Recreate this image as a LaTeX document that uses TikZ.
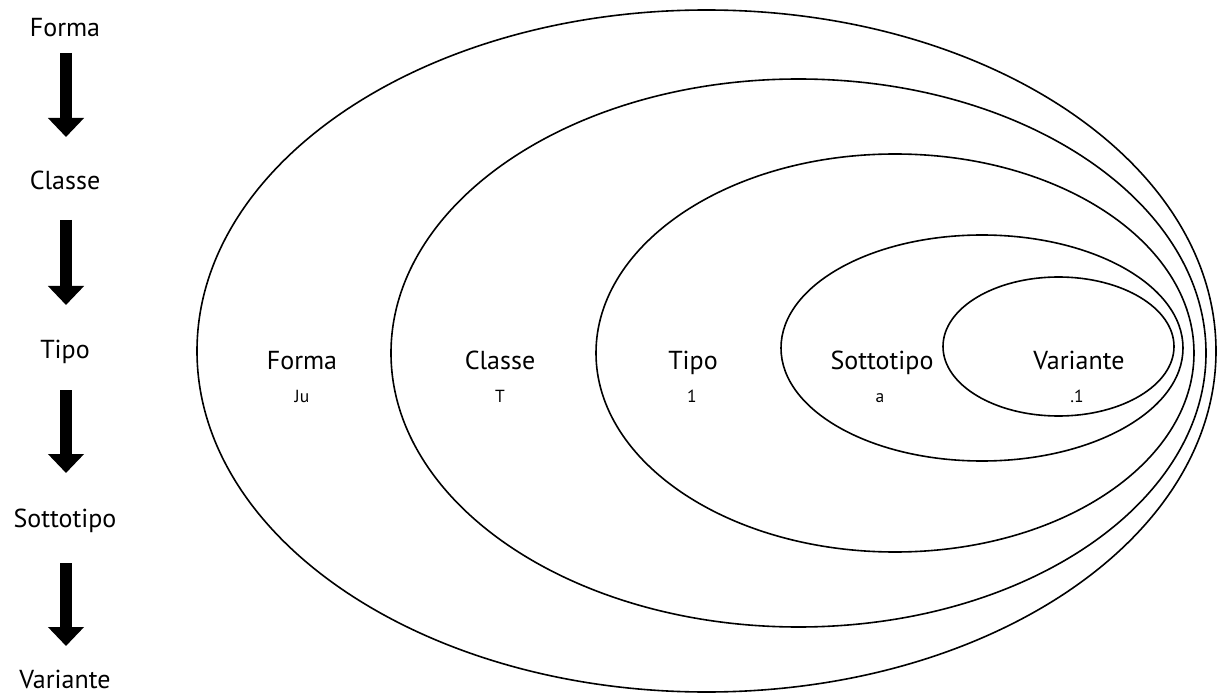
\documentclass[tikz,border=0pt]{standalone}
\usepackage{fontspec}
\setmainfont{PT Sans}
\usetikzlibrary{arrows.meta}
\tikzset{
  ring/.style={draw=black, line width=1.6pt},
  biglabel/.style={anchor=base, inner sep=0pt, font=\fontsize{26}{31}\selectfont},
  smalllabel/.style={anchor=base, inner sep=0pt, font=\fontsize{17.5}{21}\selectfont},
  bigarrow/.style={line width=12pt, -{Triangle[width=35pt,length=19pt]}}
}
\begin{document}
\begin{tikzpicture}[x=1pt,y=-1pt]
\useasboundingbox (0,0) rectangle (1219,695);
% nested ellipses
\draw[ring] (706.5,351) ellipse [x radius=509.5, y radius=341];
\draw[ring] (798.5,353) ellipse [x radius=407.5, y radius=274];
\draw[ring] (895,353) ellipse [x radius=299, y radius=199];
\draw[ring] (982,348) ellipse [x radius=201, y radius=113];
\draw[ring] (1058.5,346.5) ellipse [x radius=115.5, y radius=69.5];
% inner labels
\node[biglabel] (lforma) at (302,369) {Forma};
\node[smalllabel] (sju) at (302,402) {Ju};
\node[biglabel] (lclasse) at (500,369) {Classe};
\node[smalllabel] (st) at (500,402) {T};
\node[biglabel] (ltipo) at (693,369) {Tipo};
\node[smalllabel] (s1) at (692,402) {1};
\node[biglabel] (lsotto) at (882,369) {Sottotipo};
\node[smalllabel] (sa) at (880,402) {a};
\node[biglabel] (lvar) at (1079,369) {Variante};
\node[smalllabel] (sdot) at (1077,402) {.1};
% left hierarchy
\node[biglabel] (hforma) at (65,37) {Forma};
\node[biglabel] (hclasse) at (65,190) {Classe};
\node[biglabel] (htipo) at (65,359) {Tipo};
\node[biglabel] (hsotto) at (65,527) {Sottotipo};
\node[biglabel] (hvar) at (65,688) {Variante};
\coordinate (a1s) at (66,53);  \coordinate (a1e) at (66,137);
\coordinate (a2s) at (66,220); \coordinate (a2e) at (66,305);
\coordinate (a3s) at (66,390); \coordinate (a3e) at (66,473);
\coordinate (a4s) at (66,563); \coordinate (a4e) at (66,646);
\draw[bigarrow] (a1s) -- (a1e);
\draw[bigarrow] (a2s) -- (a2e);
\draw[bigarrow] (a3s) -- (a3e);
\draw[bigarrow] (a4s) -- (a4e);
\end{tikzpicture}
\end{document}
